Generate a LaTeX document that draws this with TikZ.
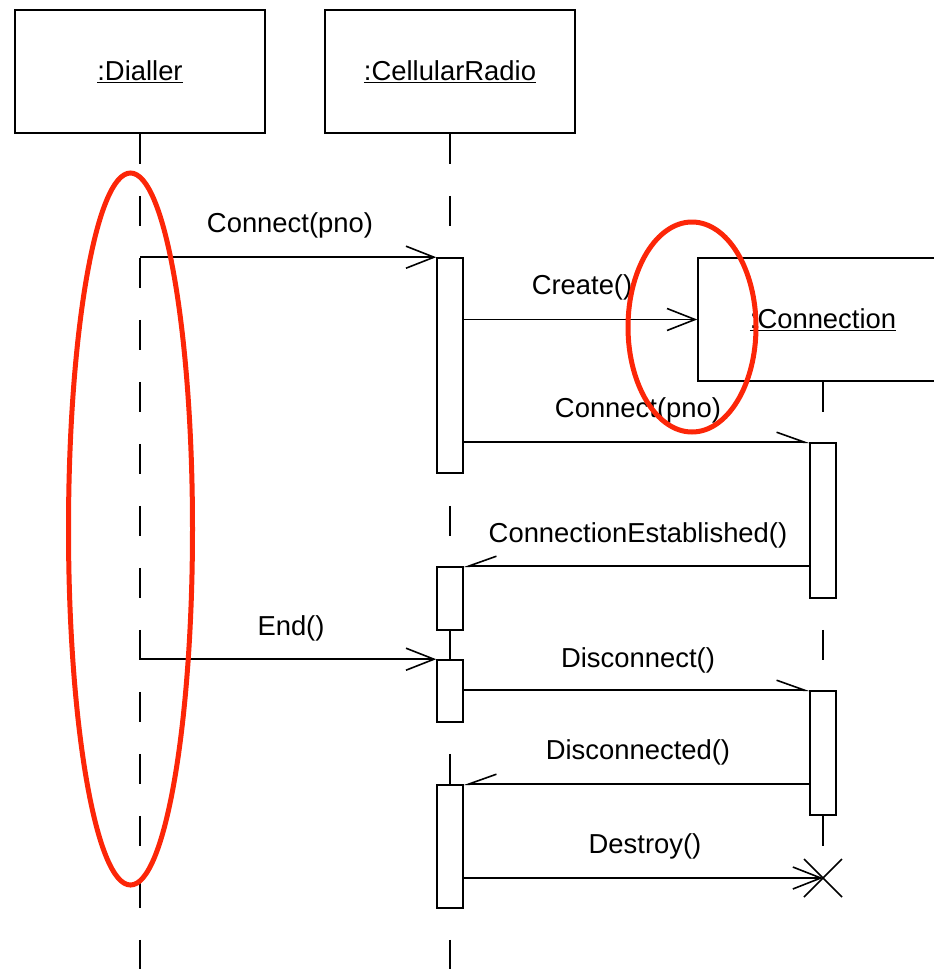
\documentclass[tikz,border=0pt]{standalone}
\usepackage{fontspec}
\setmainfont{Liberation Sans}
\usetikzlibrary{arrows.meta}
\definecolor{markred}{RGB}{252,38,8}
\begin{document}
\begin{tikzpicture}[x=1pt,y=-1pt,
  every node/.style={font=\fontsize{27.4}{30}\selectfont, inner sep=0pt},
  objbox/.style={draw, line width=1.6pt, minimum width=250pt, minimum height=123pt},
  act/.style={draw, fill=white, line width=1.6pt, minimum width=26pt},
  lifeline/.style={line width=1.6pt, dash pattern=on 30pt off 32pt},
  sync/.style={line width=1.6pt, -{Straight Barb[length=28pt,width=22pt]}},
  asyncr/.style={line width=1.6pt, -{Straight Barb[left,length=28pt,width=20pt]}},
  asyncl/.style={line width=1.6pt, -{Straight Barb[right,length=28pt,width=20pt]}},
  highlight/.style={draw=markred, line width=5pt}
]
\clip (0,0) rectangle (934,969);

% objects
\node[objbox] (dialler) at (140,71.5) {\underline{:Dialler}};
\node[objbox] (radio) at (450,71.5) {\underline{:CellularRadio}};
\node[objbox] (conn) at (823,319.5) {\underline{:Connection}};

% lifelines
\draw[lifeline] (dialler.south) -- (dialler.south |- 0,969);
\draw[lifeline] (radio.south) -- (radio.south |- 0,969);
\draw[lifeline] (conn.south) -- (conn.south |- 0,847);

% activations
\node[act, minimum height=215pt] (cr1) at (450,365.5) {};
\node[act, minimum height=63pt]  (cr2) at (450,598.5) {};
\node[act, minimum height=62pt]  (cr3) at (450,691) {};
\node[act, minimum height=123pt] (cr4) at (450,846.5) {};
\node[act, minimum height=155pt] (ca1) at (823,520.5) {};
\node[act, minimum height=124pt] (ca2) at (823,753) {};
\coordinate (xmark) at (823,878);

% messages
\draw[sync] (cr1.north west -| dialler.south) -- (cr1.north west);
\node (m1) at (290,225) {Connect(pno)};
\draw[sync] (conn.west -| cr1.east) -- (conn.west);
\node (m2) at (582,287) {Create()};
\draw[asyncr] (ca1.north west -| cr1.east) -- (ca1.north west);
\node (m3) at (638,410) {Connect(pno)};
\draw[asyncl] (cr2.north east -| ca1.west) -- (cr2.north east);
\node (m4) at (638,535) {ConnectionEstablished()};
\draw[sync] (cr3.north west -| dialler.south) -- (cr3.north west);
\node (m5) at (291,628) {End()};
\draw[asyncr] (ca2.north west -| cr3.east) -- (ca2.north west);
\node (m6) at (638,660) {Disconnect()};
\draw[asyncl] (cr4.north east -| ca2.west) -- (cr4.north east);
\node (m7) at (638,752) {Disconnected()};
\draw[sync] (xmark -| cr4.east) -- (xmark);
\node (m8) at (645,846) {Destroy()};

% destruction mark
\draw[line width=1.6pt] ([shift={(-19,-19)}]xmark) -- ([shift={(19,19)}]xmark);
\draw[line width=1.6pt] ([shift={(-19,19)}]xmark) -- ([shift={(19,-19)}]xmark);

% red highlights
\draw[highlight] (130.5,529) ellipse [x radius=62pt, y radius=356pt];
\draw[highlight] (692,327) ellipse [x radius=64pt, y radius=105pt];
\end{tikzpicture}
\end{document}
